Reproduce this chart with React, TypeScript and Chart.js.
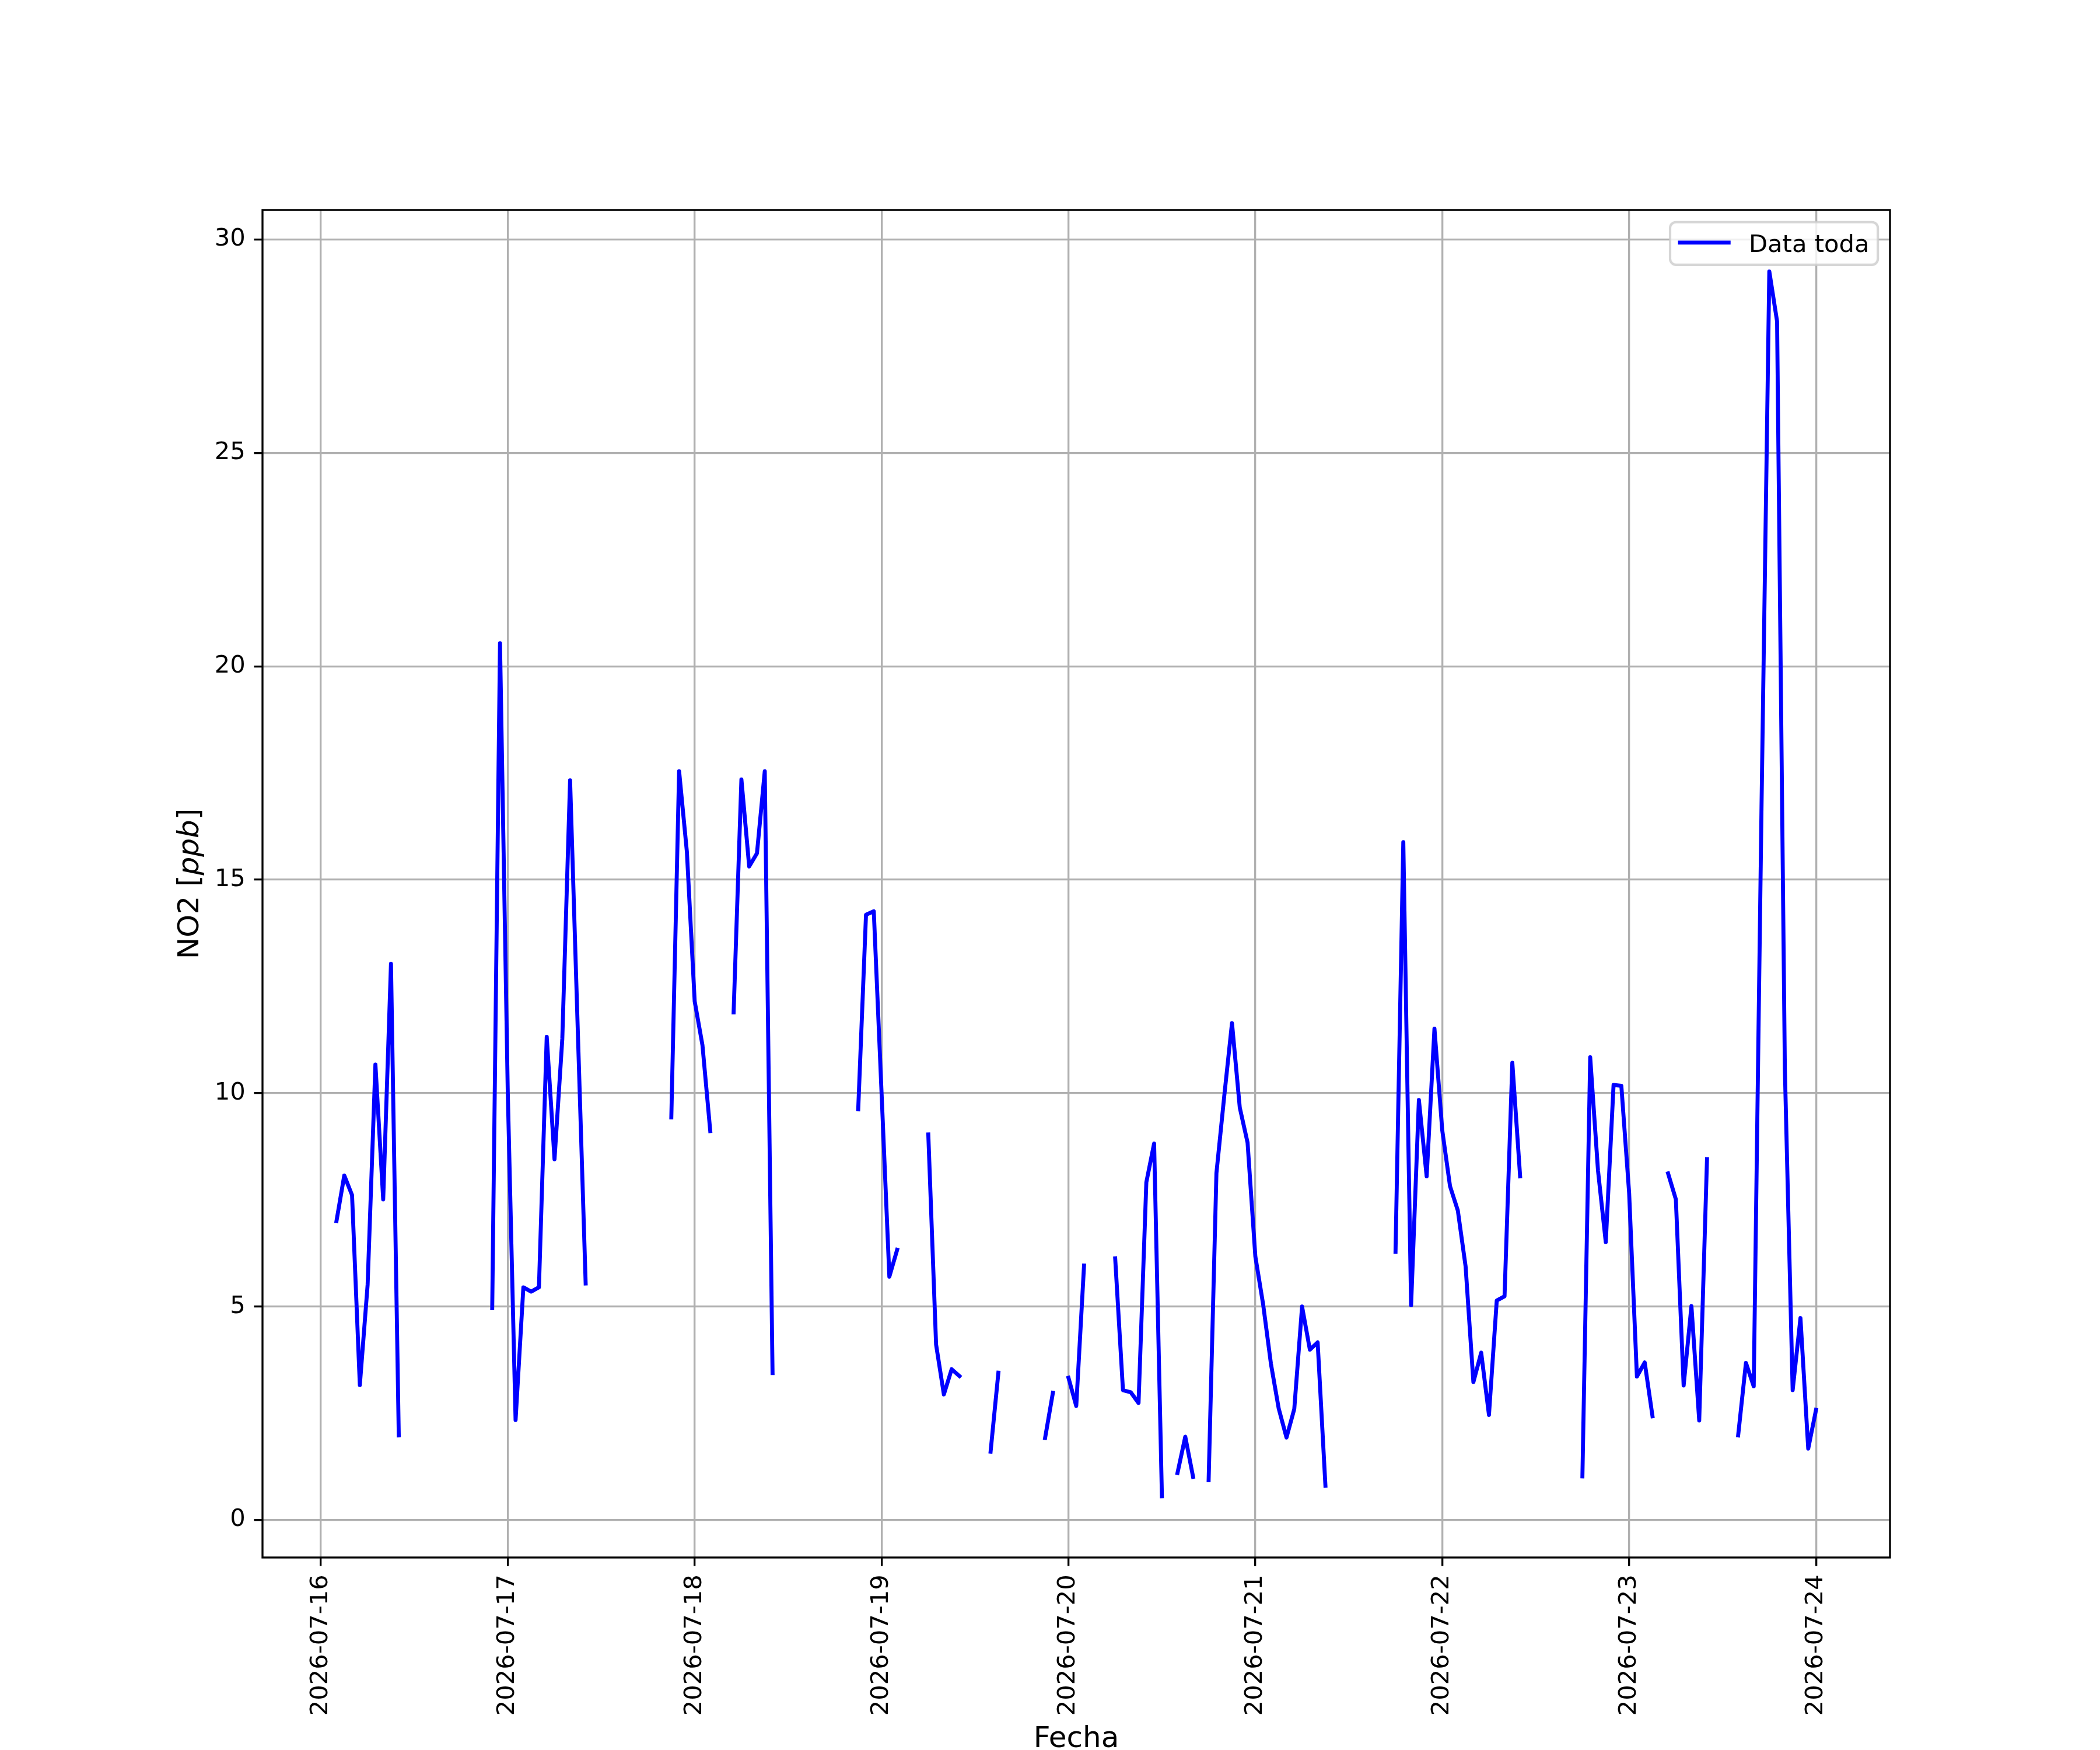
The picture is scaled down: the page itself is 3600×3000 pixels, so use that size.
import { useEffect, useRef } from "react";
import { Chart, registerables } from "chart.js";

Chart.register(...registerables);

// one date per day, ticks are drawn at midnight of each
const dates = [
  "2026-07-16",
  "2026-07-17",
  "2026-07-18",
  "2026-07-19",
  "2026-07-20",
  "2026-07-21",
  "2026-07-22",
  "2026-07-23",
  "2026-07-24",
];

// NO2 [ppb], hourly values 00:00 .. 23:00 (null = no data)
const no2Jul16 = [
  null, null, 7.0, 8.07, 7.61, 3.16, 5.51, 10.67, 7.51, 13.03, 1.98, null,
  null, null, null, null, null, null, null, null, null, null, 4.96, 20.54,
];
const no2Jul17 = [
  10.0, 2.34, 5.45, 5.35, 5.45, 11.32, 8.45, 11.27, 17.33, 11.4, 5.54, null,
  null, null, null, null, null, null, null, null, null, 9.43, 17.54, 15.65,
];
const no2Jul18 = [
  12.15, 11.12, 9.11, null, null, 11.89, 17.35, 15.31, 15.62, 17.54, 3.44, null,
  null, null, null, null, null, null, null, null, null, 9.62, 14.18, 14.26,
];
const no2Jul19 = [
  10.0, 5.7, 6.33, null, null, null, 9.03, 4.11, 2.94, 3.53, 3.37, null,
  null, null, 1.6, 3.45, null, null, null, null, null, 1.92, 2.98, null,
];
const no2Jul20 = [
  3.33, 2.67, 5.96, null, null, null, 6.13, 3.04, 2.99, 2.74, 7.91, 8.82,
  0.555, null, 1.1, 1.95, 1.01, null, 0.93, 8.12, 9.92, 11.64, 9.66, 8.84,
];
const no2Jul21 = [
  6.17, 5.05, 3.66, 2.61, 1.93, 2.6, 5.0, 3.99, 4.16, 0.8, null, null,
  null, null, null, null, null, null, 6.28, 15.88, 5.03, 9.84, 8.05, 11.51,
];
const no2Jul22 = [
  9.13, 7.82, 7.25, 5.94, 3.23, 3.92, 2.46, 5.14, 5.24, 10.71, 8.05, null,
  null, null, null, null, null, null, 1.02, 10.84, 8.19, 6.51, 10.19, 10.17,
];
const no2Jul23 = [
  7.66, 3.36, 3.69, 2.43, null, 8.12, 7.51, 3.15, 5.01, 2.33, 8.45, null,
  null, null, 1.98, 3.68, 3.13, 16.7, 29.25, 28.08, 10.55, 3.04, 4.73, 1.67,
];
const no2Jul24 = [2.58];

const dailyNo2 = [
  no2Jul16, no2Jul17, no2Jul18, no2Jul19, no2Jul20,
  no2Jul21, no2Jul22, no2Jul23, no2Jul24,
];

const yTicks = [0, 5, 10, 15, 20, 25, 30];
const seriesLabel = "Data toda";

// matplotlib-like geometry (12x10 in @ 300 dpi)
const W = 3600;
const H = 3000;
const AREA = { left: 450, right: 3240, top: 360, bottom: 2670 };
const PT = 300 / 72;
const FONT = "'DejaVu Sans'";
const TICK_SIZE = 10 * PT;
const LABEL_SIZE = 12 * PT;
const LINE_W = 6.8;

const frameAndLabels = {
  id: "frameAndLabels",
  beforeDraw(chart: Chart) {
    const ctx = chart.ctx;
    ctx.save();
    ctx.fillStyle = "#ffffff";
    ctx.fillRect(0, 0, W, H);
    ctx.restore();
  },
  afterDatasetsDraw(chart: Chart) {
    const ctx = chart.ctx;
    const a = chart.chartArea;
    ctx.save();
    ctx.strokeStyle = "#000000";
    ctx.lineWidth = 0.8 * PT;
    ctx.strokeRect(a.left, a.top, a.right - a.left, a.bottom - a.top);
    ctx.restore();
  },
  afterDraw(chart: Chart) {
    const ctx = chart.ctx;
    const a = chart.chartArea;
    ctx.save();

    // x axis title
    ctx.fillStyle = "#000000";
    ctx.font = `${LABEL_SIZE}px ${FONT}`;
    ctx.textAlign = "center";
    ctx.textBaseline = "alphabetic";
    ctx.fillText("Fecha", (a.left + a.right) / 2, 2995);

    // y axis title: NO2 [ppb] with italic ppb
    const parts = [
      { t: "NO2 [", f: `${LABEL_SIZE}px ${FONT}` },
      { t: "ppb", f: `italic ${LABEL_SIZE}px ${FONT}` },
      { t: "]", f: `${LABEL_SIZE}px ${FONT}` },
    ];
    const widths = parts.map((p) => {
      ctx.font = p.f;
      return ctx.measureText(p.t).width;
    });
    const total = widths.reduce((s, w) => s + w, 0);
    ctx.translate(340, (a.top + a.bottom) / 2);
    ctx.rotate(-Math.PI / 2);
    ctx.textAlign = "left";
    let cx = -total / 2;
    parts.forEach((p, i) => {
      ctx.font = p.f;
      ctx.fillText(p.t, cx, 0);
      cx += widths[i];
    });
    ctx.restore();

    // legend, upper right inside the axes
    ctx.save();
    const pad = 0.5 * TICK_SIZE;
    const boxR = a.right - pad;
    const boxT = a.top + pad;
    const boxL = 2863;
    const boxB = boxT + 73;
    ctx.beginPath();
    ctx.roundRect(boxL, boxT, boxR - boxL, boxB - boxT, 10);
    ctx.fillStyle = "rgba(255,255,255,0.8)";
    ctx.fill();
    ctx.strokeStyle = "rgba(204,204,204,0.8)";
    ctx.lineWidth = 1 * PT;
    ctx.stroke();

    const midY = boxT + 35;
    ctx.beginPath();
    ctx.moveTo(boxL + 17, midY);
    ctx.lineTo(boxL + 17 + 2 * TICK_SIZE, midY);
    ctx.strokeStyle = "#0000ff";
    ctx.lineWidth = LINE_W;
    ctx.lineCap = "square";
    ctx.stroke();

    ctx.fillStyle = "#000000";
    ctx.font = `${TICK_SIZE}px ${FONT}`;
    ctx.textAlign = "left";
    ctx.textBaseline = "alphabetic";
    ctx.fillText(seriesLabel, boxL + 135, 432);
    ctx.restore();
  },
};

export default function App() {
  const chartRef = useRef<HTMLCanvasElement>(null);
  const chartInstance = useRef<Chart | null>(null);

  useEffect(() => {
    if (!chartRef.current) return;
    document.body.style.margin = "0";

    const points = dailyNo2.flatMap((day, di) =>
      day.map((v, h) => ({ x: di * 24 + h, y: v }))
    );

    if (chartInstance.current) {
      chartInstance.current.destroy();
    }

    const ctx = chartRef.current.getContext("2d");
    if (!ctx) return;

    const yAxisWidth = 200;
    const xAxisHeight = 320;

    chartInstance.current = new Chart(ctx, {
      type: "line",
      data: {
        datasets: [
          {
            label: seriesLabel,
            data: points as any,
            borderColor: "#0000ff",
            backgroundColor: "#0000ff",
            borderWidth: LINE_W,
            borderCapStyle: "square",
            borderJoinStyle: "round",
            pointRadius: 0,
            tension: 0,
            spanGaps: false,
            fill: false,
          },
        ],
      },
      options: {
        animation: false,
        responsive: false,
        devicePixelRatio: 1,
        events: [],
        layout: {
          padding: {
            left: AREA.left - yAxisWidth,
            right: W - AREA.right,
            top: AREA.top,
            bottom: H - AREA.bottom - xAxisHeight,
          },
        },
        scales: {
          x: {
            type: "linear",
            min: -7.5,
            max: 201.5,
            afterFit: (scale: any) => {
              scale.height = xAxisHeight;
            },
            afterBuildTicks: (scale: any) => {
              scale.ticks = dates.map((_, i) => ({ value: i * 24 }));
            },
            grid: {
              color: "#b0b0b0",
              lineWidth: 0.8 * PT,
              tickColor: "#000000",
              tickWidth: 0.8 * PT,
              tickLength: 3.5 * PT,
            },
            border: { display: false },
            ticks: {
              autoSkip: false,
              minRotation: 90,
              maxRotation: 90,
              padding: 3.5 * PT,
              color: "#000000",
              font: { family: FONT, size: TICK_SIZE },
              callback: (value: any) => dates[Math.round(Number(value) / 24)] ?? "",
            },
          },
          y: {
            type: "linear",
            min: -0.88,
            max: 30.69,
            afterFit: (scale: any) => {
              scale.width = yAxisWidth;
            },
            afterBuildTicks: (scale: any) => {
              scale.ticks = yTicks.map((v) => ({ value: v }));
            },
            grid: {
              color: "#b0b0b0",
              lineWidth: 0.8 * PT,
              tickColor: "#000000",
              tickWidth: 0.8 * PT,
              tickLength: 3.5 * PT,
            },
            border: { display: false },
            ticks: {
              padding: 3.5 * PT,
              color: "#000000",
              font: { family: FONT, size: TICK_SIZE },
              callback: (value: any) => String(value),
            },
          },
        },
        plugins: {
          legend: { display: false },
          tooltip: { enabled: false },
        },
      },
      plugins: [frameAndLabels],
    });

    return () => {
      if (chartInstance.current) {
        chartInstance.current.destroy();
        chartInstance.current = null;
      }
    };
  }, []);

  return (
    <div style={{ width: W, height: H }}>
      <canvas ref={chartRef} width={W} height={H} style={{ display: "block" }} />
    </div>
  );
}
